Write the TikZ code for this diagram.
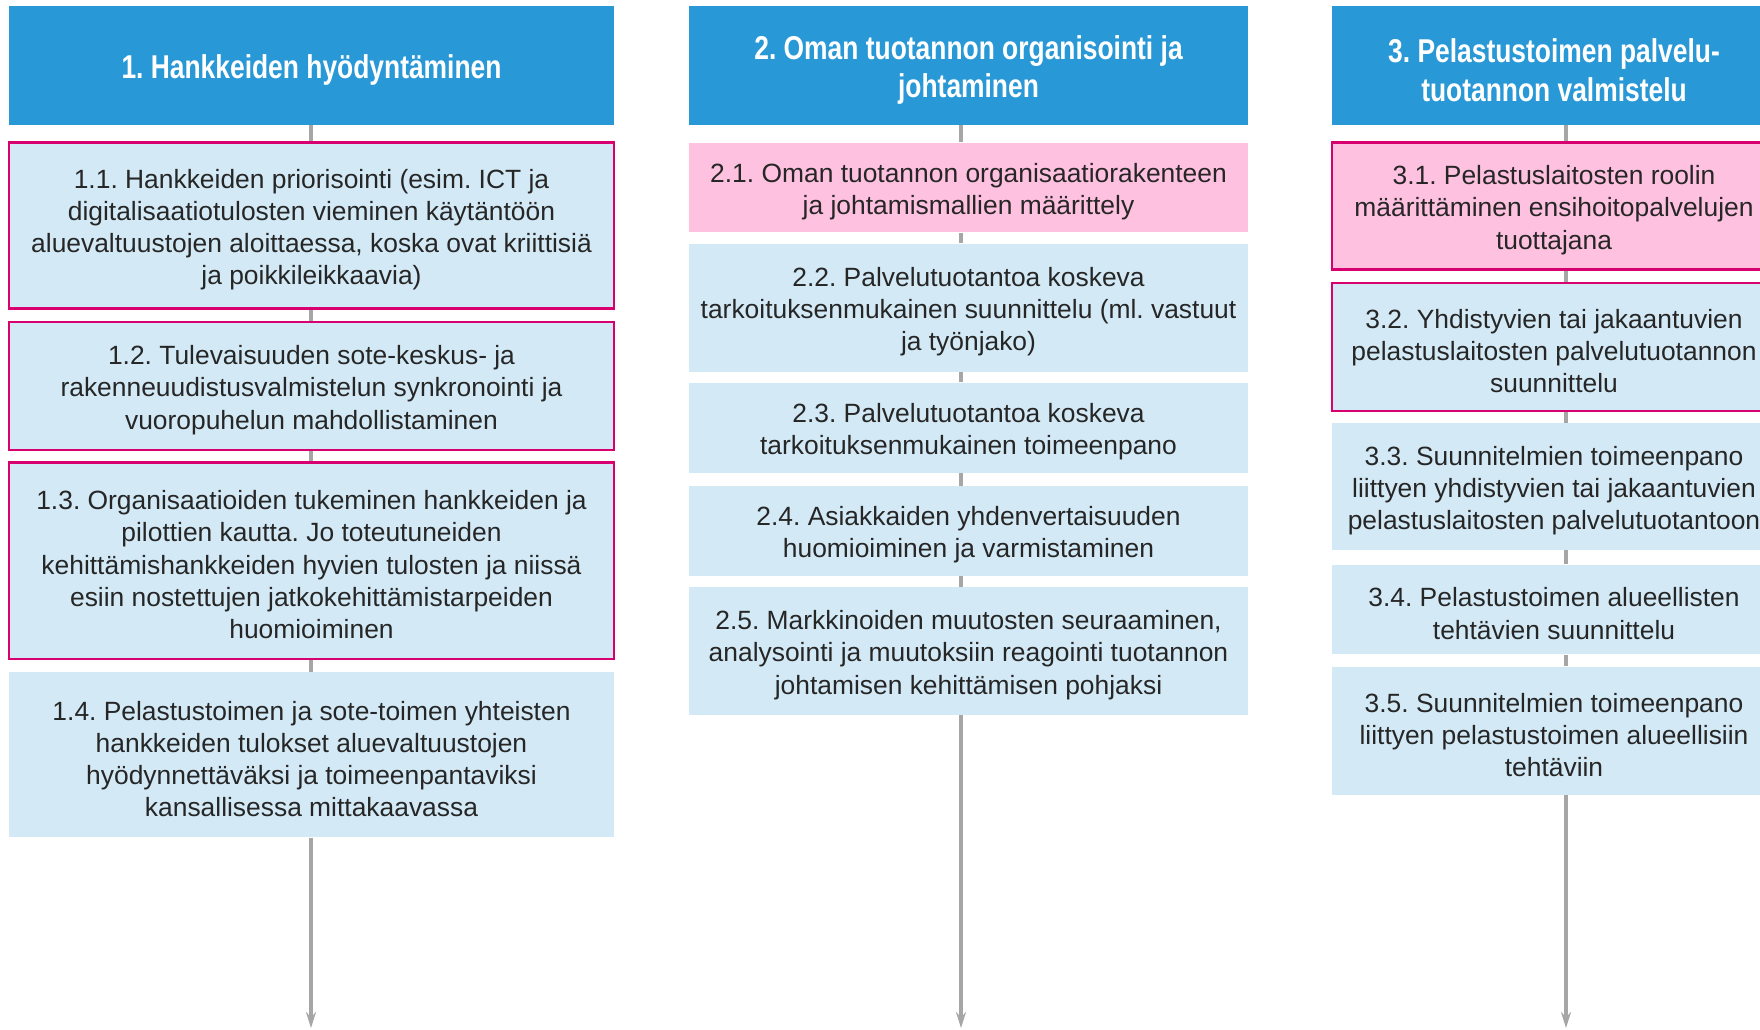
\documentclass[tikz,border=0pt]{standalone}
\usepackage{fontspec}
\setmainfont{Liberation Sans}
\newfontfamily\headfont[FakeStretch=0.8]{Liberation Sans}
\usetikzlibrary{arrows.meta}
\frenchspacing

\definecolor{headblue}{RGB}{41,152,214}
\definecolor{lightblue}{RGB}{211,234,246}
\definecolor{lightpink}{RGB}{255,193,224}
\definecolor{magentaline}{RGB}{216,0,110}
\definecolor{linegray}{RGB}{166,166,166}
\definecolor{textgray}{RGB}{38,38,38}

% strut on the first line, pushes the text block a little down
\newcommand{\toprow}{\rule{0pt}{13.7pt}}
\newcommand{\headrow}{\rule{0pt}{16.5pt}}

\begin{document}
\begin{tikzpicture}
    [x=0.5pt,y=-0.5pt,
    head/.style={rectangle,fill=headblue,text=white,inner sep=0pt,align=center,
        font=\headfont\bfseries\fontsize{16.5}{19.3}\selectfont},
    task/.style={rectangle,fill=lightblue,text=textgray,inner sep=0pt,align=center,
        font=\fontsize{13.2}{16.1}\selectfont},
    hot/.style={fill=lightpink},
    framed/.style={draw=magentaline,line width=1.3pt},
    col1/.style={minimum width=302.5pt},
    col2/.style={minimum width=279.5pt},
    col3/.style={minimum width=222pt},
    flow/.style={draw=linegray,line width=1.75pt}]

    \useasboundingbox (0,0) rectangle (1760,1029);
    \clip (0,0) rectangle (1760,1029);

    % column 1
    \node[head,col1,minimum height=59.5pt] (h1) at (311.5,65.5) {\headrow 1. Hankkeiden hyödyntäminen};
    \node[task,col1,framed,minimum height=83.1pt] (b11) at (311.5,225.6)
        {\toprow 1.1. Hankkeiden priorisointi (esim. ICT ja\\digitalisaatiotulosten vieminen käytäntöön\\aluevaltuustojen aloittaessa, koska ovat kriittisiä\\ja poikkileikkaavia)};
    \node[task,col1,framed,minimum height=64pt] (b12) at (311.5,386)
        {\toprow 1.2. Tulevaisuuden sote-keskus- ja\\rakenneuudistusvalmistelun synkronointi ja\\vuoropuhelun mahdollistaminen};
    \node[task,col1,framed,minimum height=98.2pt] (b13) at (311.5,560.6)
        {\toprow 1.3. Organisaatioiden tukeminen hankkeiden ja\\pilottien kautta. Jo toteutuneiden\\kehittämishankkeiden hyvien tulosten ja niissä\\esiin nostettujen jatkokehittämistarpeiden\\huomioiminen};
    \node[task,col1,minimum height=82.5pt] (b14) at (311.5,754.8)
        {\toprow 1.4. Pelastustoimen ja sote-toimen yhteisten\\hankkeiden tulokset aluevaltuustojen\\hyödynnettäväksi ja toimeenpantaviksi\\kansallisessa mittakaavassa};

    % column 2
    \node[head,col2,minimum height=59.5pt] (h2) at (968.5,65.5) {\headrow 2. Oman tuotannon organisointi ja\\johtaminen};
    \node[task,col2,hot,minimum height=44.9pt] (b21) at (968.5,187.4)
        {\toprow 2.1. Oman tuotannon organisaatiorakenteen\\ja johtamismallien määrittely};
    \node[task,col2,minimum height=64pt] (b22) at (968.5,307.5)
        {\toprow 2.2. Palvelutuotantoa koskeva\\tarkoituksenmukainen suunnittelu (ml. vastuut\\ja työnjako)};
    \node[task,col2,minimum height=44.9pt] (b23) at (968.5,427.6)
        {\toprow 2.3. Palvelutuotantoa koskeva\\tarkoituksenmukainen toimeenpano};
    \node[task,col2,minimum height=44.9pt] (b24) at (968.5,530.9)
        {\toprow 2.4. Asiakkaiden yhdenvertaisuuden\\huomioiminen ja varmistaminen};
    \node[task,col2,minimum height=64pt] (b25) at (968.5,651)
        {\toprow 2.5. Markkinoiden muutosten seuraaminen,\\analysointi ja muutoksiin reagointi tuotannon\\johtamisen kehittämisen pohjaksi};

    % column 3
    \node[head,col3,minimum height=59.5pt] (h3) at (1554,65.5) {\headrow 3. Pelastustoimen palvelu-\\tuotannon valmistelu};
    \node[task,col3,hot,framed,minimum height=63.5pt] (b31) at (1554,206)
        {\toprow 3.1. Pelastuslaitosten roolin\\määrittäminen ensihoitopalvelujen\\tuottajana};
    \node[task,col3,framed,minimum height=64pt] (b32) at (1554,346.8)
        {\toprow 3.2. Yhdistyvien tai jakaantuvien\\pelastuslaitosten palvelutuotannon\\suunnittelu};
    \node[task,col3,minimum height=63.5pt] (b33) at (1554,486.5)
        {\toprow 3.3. Suunnitelmien toimeenpano\\liittyen yhdistyvien tai jakaantuvien\\pelastuslaitosten palvelutuotantoon};
    \node[task,col3,minimum height=44.9pt] (b34) at (1554,609.5)
        {\toprow 3.4. Pelastustoimen alueellisten\\tehtävien suunnittelu};
    \node[task,col3,minimum height=64pt] (b35) at (1554,730.7)
        {\toprow 3.5. Suunnitelmien toimeenpano\\liittyen pelastustoimen alueellisiin\\tehtäviin};

    \coordinate (e1) at (311,1028);
    \coordinate (e2) at (961,1028);
    \coordinate (e3) at (1566,1028);

    \draw[flow] (h1.south -| e1) -- (b11.north -| e1);
    \draw[flow] (b11.south -| e1) -- (b12.north -| e1);
    \draw[flow] (b12.south -| e1) -- (b13.north -| e1);
    \draw[flow] (b13.south -| e1) -- (b14.north -| e1);
    \draw[flow,-{Stealth[length=8pt,width=5pt]}] (b14.south -| e1) -- (e1);

    \draw[flow] (h2.south -| e2) -- (b21.north -| e2);
    \draw[flow] (b21.south -| e2) -- (b22.north -| e2);
    \draw[flow] (b22.south -| e2) -- (b23.north -| e2);
    \draw[flow] (b23.south -| e2) -- (b24.north -| e2);
    \draw[flow] (b24.south -| e2) -- (b25.north -| e2);
    \draw[flow,-{Stealth[length=8pt,width=5pt]}] (b25.south -| e2) -- (e2);

    \draw[flow] (h3.south -| e3) -- (b31.north -| e3);
    \draw[flow] (b31.south -| e3) -- (b32.north -| e3);
    \draw[flow] (b32.south -| e3) -- (b33.north -| e3);
    \draw[flow] (b33.south -| e3) -- (b34.north -| e3);
    \draw[flow] (b34.south -| e3) -- (b35.north -| e3);
    \draw[flow,-{Stealth[length=8pt,width=5pt]}] (b35.south -| e3) -- (e3);
\end{tikzpicture}
\end{document}
